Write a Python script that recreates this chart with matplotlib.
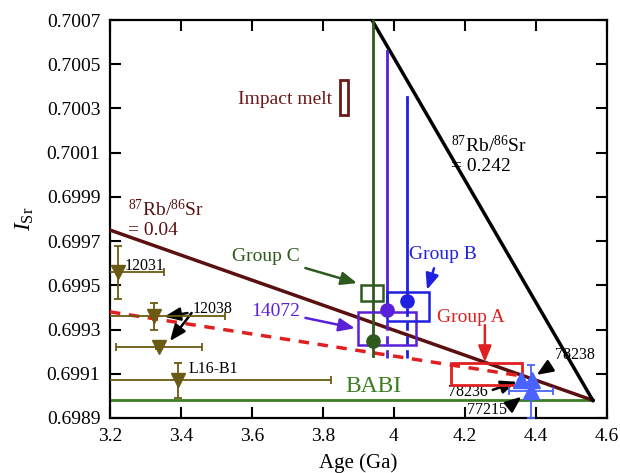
import numpy as np
import matplotlib
matplotlib.use('Agg')
import matplotlib.pyplot as plt
from matplotlib.patches import Rectangle

plt.rcParams['font.family'] = ['Liberation Serif', 'DejaVu Serif']
plt.rcParams['mathtext.fontset'] = 'custom'
plt.rcParams['mathtext.rm'] = 'Liberation Serif'
plt.rcParams['mathtext.it'] = 'Liberation Serif:italic'

# Colours
c_brown = '#5b1010'
c_red = '#e02020'
c_babi = '#3b7d23'
c_grpc = '#2f5a1e'
c_14072 = '#5a1fd8'
c_grpb = '#2020e0'
c_tri = '#4a63ff'
c_olive = '#6b5a14'

# Evolution lines (age in Ga, I_Sr)
babi = 0.69898
rb04_age = [3.2, 4.56]
rb04_isr = [0.69975, babi]
rb242_age = [3.938, 4.56]
rb242_isr = [0.7007, babi]
grpa_line_age = [3.2, 4.36]
grpa_line_isr = [0.69938, 0.69909]

# Groups: point, box (x0, x1, y0, y1), vertical line top / bottom
grpc_pt = (3.94, 0.69925)
grpc_box = (3.907, 3.968, 0.69943, 0.69950)
grpc_top, grpc_bot = 0.7007, 0.69918

s14072_pt = (3.98, 0.69939)
s14072_box = (3.898, 4.061, 0.69923, 0.69938)
s14072_top, s14072_bot = 0.70056, 0.69917

grpb_pt = (4.037, 0.69943)
grpb_box = (3.979, 4.099, 0.69934, 0.69947)
grpb_top, grpb_bot = 0.70035, 0.69917

grpa_box = (4.16, 4.36, 0.69905, 0.69915)
melt_box = (3.848, 3.871, 0.70027, 0.70043)

# Lunar samples (olive, down triangles)
samp_age = [3.223, 3.325, 3.338, 3.392]
samp_isr = [0.69956, 0.69936, 0.69922, 0.69907]
samp_xerr = [0.13, 0.2, 0.12, 0.43]
samp_yerr = [0.00012, 0.00006, 0.00001, 0.00008]

# Blue triangles: 78236, 78238, 77215
blue_age = [4.357, 4.388, 4.386]
blue_isr = [0.69907, 0.69907, 0.69902]
blue_xerr = [0, 0, 0.062]
blue_yerr = [0, 0, 0.00012]

fig = plt.figure(figsize=(6.2, 4.73), dpi=100)
ax = fig.add_axes([0.1774, 0.1163, 0.8016, 0.8414])

ax.plot(rb04_age, rb04_isr, color=c_brown, lw=2.5, zorder=3)
ax.plot(rb242_age, rb242_isr, color='black', lw=2.5, zorder=3)
ax.plot(grpa_line_age, grpa_line_isr, color=c_red, lw=2.5, ls=(0, (3, 2.5)), zorder=3)
ax.plot([3.2, 4.56], [babi, babi], color=c_babi, lw=2, zorder=2)


def box(b, color, lw=1.8):
    ax.add_patch(Rectangle((b[0], b[2]), b[1] - b[0], b[3] - b[2], fill=False,
                           edgecolor=color, lw=lw, zorder=4))


# Group C
ax.plot([grpc_pt[0], grpc_pt[0]], [grpc_bot, grpc_top], color=c_grpc, lw=2, zorder=4)
ax.plot(*grpc_pt, 'o', color=c_grpc, ms=9.5, zorder=5)
box(grpc_box, c_grpc)

# 14072
ax.plot([s14072_pt[0]] * 2, [s14072_pt[1], s14072_top], color=c_14072, lw=2, zorder=4)
ax.plot([s14072_pt[0]] * 2, [s14072_bot, s14072_pt[1]], color=c_14072, lw=2, ls=(0, (3, 2)), zorder=4)
ax.plot(*s14072_pt, 'o', color=c_14072, ms=9.5, zorder=5)
box(s14072_box, c_14072)

# Group B
ax.plot([grpb_pt[0]] * 2, [grpb_pt[1], grpb_top], color=c_grpb, lw=2, zorder=4)
ax.plot([grpb_pt[0]] * 2, [grpb_bot, grpb_pt[1]], color=c_grpb, lw=2, ls=(0, (3, 2)), zorder=4)
ax.plot(*grpb_pt, 'o', color=c_grpb, ms=9.5, zorder=5)
box(grpb_box, c_grpb)

# Group A, impact melt
box(grpa_box, c_red, lw=2)
box(melt_box, '#6a1a1a', lw=2)

ax.errorbar(samp_age, samp_isr, xerr=samp_xerr, yerr=samp_yerr, fmt='v', color=c_olive,
            ms=10.5, elinewidth=1.3, capsize=3, capthick=1.3, zorder=5)
ax.errorbar(blue_age, blue_isr, xerr=blue_xerr, yerr=blue_yerr, fmt='^', color=c_tri,
            ms=11, elinewidth=1.3, capsize=3, capthick=1.3, zorder=6)

arr = dict(arrowstyle='-|>,head_length=0.8,head_width=0.33', lw=1.8, mutation_scale=12,
           shrinkA=2, shrinkB=0)

ax.annotate('Group C', xy=(3.896, 0.69951), xytext=(3.735, 0.69963), fontsize=14,
            color=c_grpc, ha='right', va='center',
            arrowprops=dict(arr, color=c_grpc))
ax.annotate('14072', xy=(3.89, 0.699306), xytext=(3.735, 0.699381), fontsize=14,
            color=c_14072, ha='right', va='center',
            arrowprops=dict(arr, color=c_14072))
ax.annotate('Group B', xy=(4.093, 0.69948), xytext=(4.137, 0.69964), fontsize=14,
            color=c_grpb, ha='center', va='center',
            arrowprops=dict(arr, color=c_grpb, relpos=(0.4, 0)))
ax.text(4.217, 0.699356, 'Group A', fontsize=14, color=c_red, ha='center', va='center')
ax.annotate('', xy=(4.256, 0.699153), xytext=(4.256, 0.69932),
            arrowprops=dict(arr, color=c_red, shrinkA=0))
ax.text(3.942, 0.699042, 'BABI', fontsize=17, color=c_babi, ha='center', va='center')
ax.text(3.693, 0.700339, 'Impact melt', fontsize=14, color='#6a1a1a', ha='center', va='center')

ax.annotate('78238', xy=(4.402, 0.699095), xytext=(4.51, 0.699185), fontsize=11.5,
            ha='center', va='center', arrowprops=dict(arr, color='black', relpos=(0, 0)))
ax.annotate('78236', xy=(4.346, 0.699064), xytext=(4.207, 0.699019), fontsize=11.5,
            ha='center', va='center', arrowprops=dict(arr, color='black', relpos=(1, 0.5)))
ax.annotate('77215', xy=(4.359, 0.698996), xytext=(4.262, 0.698936), fontsize=11.5,
            ha='center', va='center', arrowprops=dict(arr, color='black', relpos=(1, 0.6)))

ax.text(3.298, 0.699589, '12031', fontsize=11.5, ha='center', va='center')
ax.annotate('12038', xy=(3.353, 0.699358), xytext=(3.49, 0.699393), fontsize=11.5,
            ha='center', va='center', arrowprops=dict(arr, color='black', relpos=(0, 0.3)))
ax.annotate('', xy=(3.369, 0.699248), xytext=(3.43, 0.699375),
            arrowprops=dict(arr, color='black', shrinkA=0))
ax.text(3.492, 0.69912, 'L16-B1', fontsize=11.5, ha='center', va='center')

ax.text(3.251, 0.6998, '$^{87}$Rb/$^{86}$Sr\n= 0.04', fontsize=14, color=c_brown,
        ha='left', va='center', linespacing=1.1)
ax.text(4.16, 0.70009, '$^{87}$Rb/$^{86}$Sr\n= 0.242', fontsize=14, color='black',
        ha='left', va='center', linespacing=1.1)

ax.set_xlim(3.2, 4.6)
ax.set_ylim(0.6989, 0.7007)
ax.set_xticks(np.arange(3.2, 4.61, 0.2))
ax.set_xticklabels(['3.2', '3.4', '3.6', '3.8', '4', '4.2', '4.4', '4.6'],
                   fontfamily='Liberation Serif')
ax.set_yticks(np.arange(0.6989, 0.70071, 0.0002))
ax.set_yticklabels(['%.4f' % v for v in np.arange(0.6989, 0.70071, 0.0002)],
                   fontfamily='Liberation Serif')
ax.tick_params(direction='in', length=8, width=1.5, labelsize=14, top=True, right=True, pad=7)
for s in ax.spines.values():
    s.set_linewidth(1.6)
ax.set_xlabel('Age (Ga)', fontsize=15, labelpad=6)
ax.set_ylabel(r'$I_{\rm Sr}$', fontsize=17, labelpad=8)

fig.savefig('out.png', dpi=100)
